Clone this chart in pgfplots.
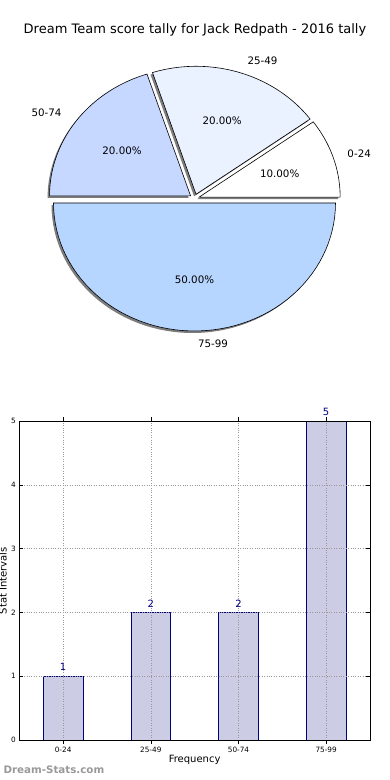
\documentclass[border=0pt]{standalone}
\usepackage{fontspec}
\setmainfont{DejaVu Sans}
\usepackage{pgfplots}
\pgfplotsset{compat=1.18}
\definecolor{cA}{RGB}{255,255,255}
\definecolor{cB}{RGB}{234,241,255}
\definecolor{cC}{RGB}{198,216,255}
\definecolor{cD}{RGB}{183,214,255}
\definecolor{barfill}{RGB}{204,204,229}
\definecolor{navyc}{RGB}{0,0,128}
\definecolor{shadowc}{RGB}{125,125,125}
\begin{document}
\begin{tikzpicture}
\path[use as bounding box] (0,0) rectangle (390pt,-780pt);
% ---------------- pie: counts 1,2,2,5 -> angles 0,36,108,180,360
\begin{axis}[at={(194.5pt,-198.5pt)}, anchor=origin, x=141pt, y=128pt,
  xmin=-1.3, xmax=1.3, ymin=-1.3, ymax=1.3, hide axis, clip=false, samples=60]
% 0-24 (10%)
\addplot[draw=none, fill=shadowc, domain=0:36] ({0.019+cos(x)},{-0.005+sin(x)}) -- (0.019,-0.005) -- cycle;
\addplot[draw=black, line width=0.6pt, fill=cA, domain=0:36] ({0.033+cos(x)},{0.011+sin(x)}) -- (0.033,0.011) -- cycle;
% 25-49 (20%)
\addplot[draw=none, fill=shadowc, domain=36:108] ({-0.003+cos(x)},{0.017+sin(x)}) -- (-0.003,0.017) -- cycle;
\addplot[draw=black, line width=0.6pt, fill=cB, domain=36:108] ({0.011+cos(x)},{0.033+sin(x)}) -- (0.011,0.033) -- cycle;
% 50-74 (20%)
\addplot[draw=none, fill=shadowc, domain=108:180] ({-0.042+cos(x)},{0.005+sin(x)}) -- (-0.042,0.005) -- cycle;
\addplot[draw=black, line width=0.6pt, fill=cC, domain=108:180] ({-0.028+cos(x)},{0.021+sin(x)}) -- (-0.028,0.021) -- cycle;
% 75-99 (50%)
\addplot[draw=none, fill=shadowc, domain=180:360] ({-0.014+cos(x)},{-0.051+sin(x)}) -- (-0.014,-0.051) -- cycle;
\addplot[draw=black, line width=0.6pt, fill=cD, domain=180:360] ({cos(x)},{-0.035+sin(x)}) -- (0,-0.035) -- cycle;
% labels
\node[anchor=west, font=\fontsize{10.3}{12}\selectfont] at (1.06,0.35) {0-24};
\node[anchor=west, font=\fontsize{10.3}{12}\selectfont] at (0.351,1.08) {25-49};
\node[anchor=east, font=\fontsize{10.3}{12}\selectfont] at (-0.918,0.667) {50-74};
\node[anchor=west, font=\fontsize{10.3}{12}\selectfont] at (0.0,-1.135) {75-99};
\node[font=\fontsize{10.3}{12}\selectfont] at (0.604,0.196) {10.00\%};
\node[font=\fontsize{10.3}{12}\selectfont] at (0.196,0.604) {20.00\%};
\node[font=\fontsize{10.3}{12}\selectfont] at (-0.514,0.373) {20.00\%};
\node[font=\fontsize{10.3}{12}\selectfont] at (0,-0.635) {50.00\%};
\node[font=\fontsize{13}{15}\selectfont] at (0.0035,1.316) {Dream Team score tally for Jack Redpath - 2016 tally};
\end{axis}
% ---------------- bar chart
\begin{axis}[at={(19.3pt,-740pt)}, anchor=south west, scale only axis,
  width=350.7pt, height=319pt,
  xmin=-0.5, xmax=3.5, ymin=0, ymax=5,
  xtick={0,1,2,3}, xticklabels={0-24,25-49,50-74,75-99},
  ytick={0,1,2,3,4,5},
  tick align=inside, major tick length=4pt, tick style={black, line width=0.5pt},
  grid=major, grid style={dotted, black!40, line width=0.5pt},
  axis on top, axis line style={line width=0.8pt},
  tick label style={font=\fontsize{7.3}{9}\selectfont},
  /pgf/number format/assume math mode=true,
  xlabel={Frequency}, ylabel={Stat Intervals},
  label style={font=\fontsize{10}{12}\selectfont},
  xlabel style={at={(axis description cs:0.5,-0.0627)}, anchor=center},
  ylabel style={at={(axis description cs:-0.0465,0.5)}, anchor=center},
  ybar, bar width=0.45, clip=false,
  nodes near coords, nodes near coords style={text=navyc, font=\fontsize{10}{12}\selectfont, inner sep=1pt, yshift=4pt}]
\addplot[fill=barfill, draw=navyc, line width=0.7pt] coordinates {(0,1) (1,2) (2,2) (3,5)};
\node[anchor=west, text=black!40, font=\bfseries\fontsize{10.3}{12}\selectfont] at (rel axis cs:-0.055,-0.094) {Dream-Stats.com};
\end{axis}
\end{tikzpicture}
\end{document}
